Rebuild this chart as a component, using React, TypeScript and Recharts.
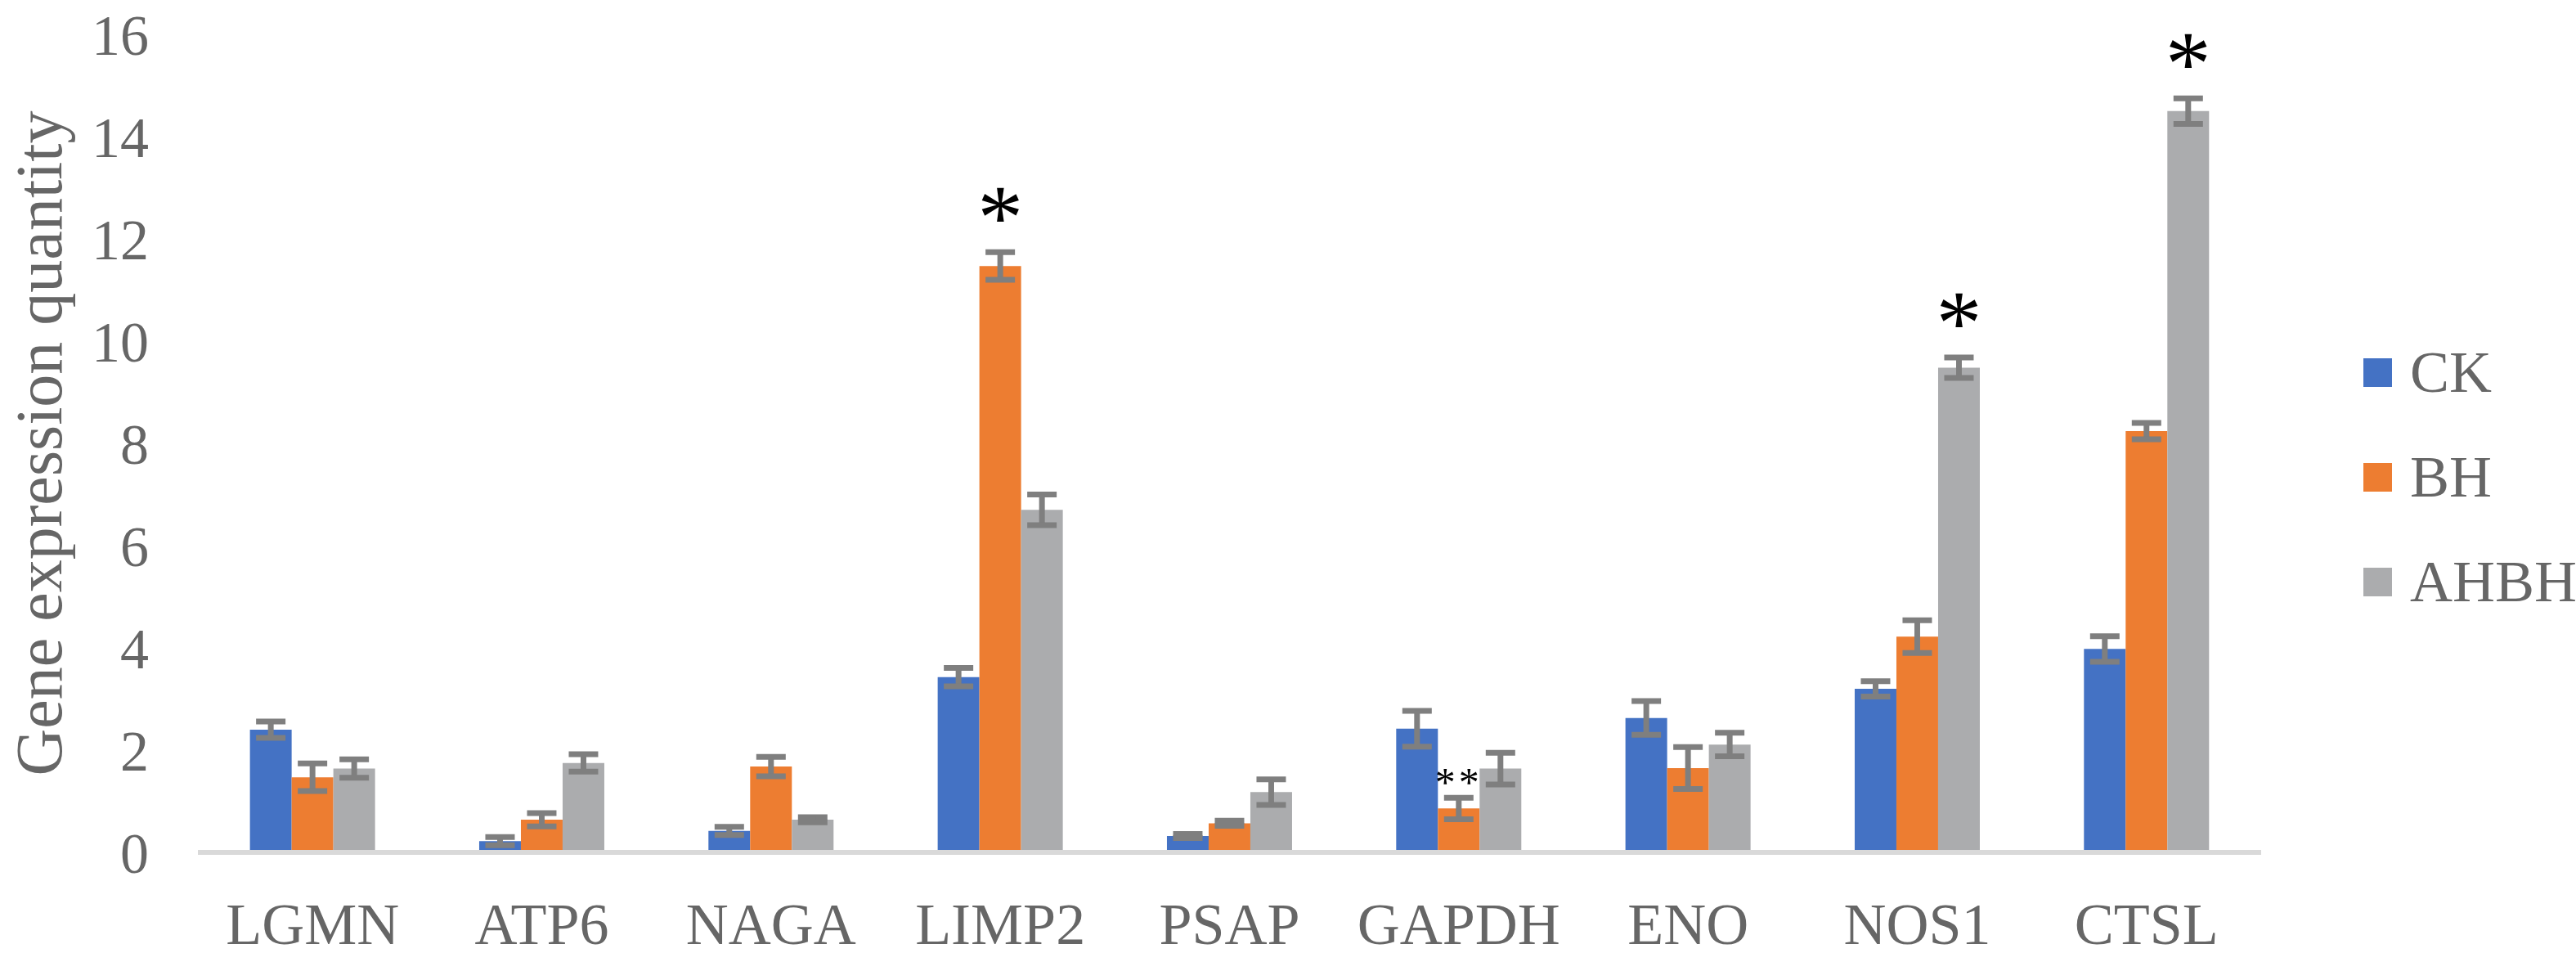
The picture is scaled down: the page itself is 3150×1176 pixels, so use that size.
import { Bar, BarChart, ErrorBar, LabelList, XAxis, YAxis } from "recharts";

const categories = ["LGMN", "ATP6", "NAGA", "LIMP2", "PSAP", "GAPDH", "ENO", "NOS1", "CTSL"];
const ck = [2.4, 0.22, 0.42, 3.43, 0.32, 2.42, 2.63, 3.2, 3.98];
const ckErr = [0.16, 0.08, 0.08, 0.18, 0.04, 0.35, 0.33, 0.15, 0.25];
const bh = [1.47, 0.64, 1.68, 11.47, 0.57, 0.86, 1.65, 4.22, 8.24];
const bhErr = [0.27, 0.13, 0.19, 0.27, 0.05, 0.21, 0.41, 0.32, 0.16];
const ahbh = [1.64, 1.75, 0.64, 6.7, 1.18, 1.64, 2.11, 9.48, 14.5];
const ahbhErr = [0.18, 0.17, 0.05, 0.3, 0.25, 0.31, 0.23, 0.2, 0.25];
const bhMarks = ["", "", "", "*", "", "**", "", "", ""];
const ahbhMarks = ["", "", "", "", "", "", "", "*", "*"];
const yTicks = [0, 2, 4, 6, 8, 10, 12, 14, 16];

const series = [
  { key: "CK", color: "#4472C4" },
  { key: "BH", color: "#ED7D31" },
  { key: "AHBH", color: "#ABACAE" },
];

const data = categories.map((name, i) => ({
  name,
  CK: ck[i],
  ckErr: ckErr[i],
  BH: bh[i],
  bhErr: bhErr[i],
  bhMark: bhMarks[i],
  AHBH: ahbh[i],
  ahbhErr: ahbhErr[i],
  ahbhMark: ahbhMarks[i],
}));

const FONT = '"Liberation Serif", "Times New Roman", serif';
const TEXT = "#666666";
const ERR = "#7f7f7f";

function XTick({ x, y, payload }: any) {
  return (
    <text x={x} y={y + 112} textAnchor="middle" fontSize={72} fill={TEXT} fontFamily={FONT}>
      {payload.value}
    </text>
  );
}

function YLabel({ viewBox }: any) {
  const cx = 48;
  const cy = viewBox.y + viewBox.height / 2;
  return (
    <text
      x={cx}
      y={cy}
      transform={`rotate(-90, ${cx}, ${cy})`}
      textAnchor="middle"
      dominantBaseline="central"
      fontSize={80}
      fill={TEXT}
      fontFamily={FONT}
    >
      Gene expression quantity
    </text>
  );
}

// star above the error bar; pixel size of the error comes from bar height / value
function markRenderer(values: number[], errs: number[]) {
  return (props: any) => {
    const { x, y, width, height, value, index } = props;
    if (!value) return null;
    const errPx = (errs[index] * height) / values[index];
    const small = value.length > 1;
    const size = small ? 50 : 112;
    const gap = small ? 26 : 58;
    const centerY = y - errPx - gap;
    return (
      <text
        x={x + width / 2}
        y={centerY + size * 0.47}
        textAnchor="middle"
        fontSize={size}
        fill="#000"
        fontFamily={FONT}
        letterSpacing={small ? 4 : 0}
      >
        {value}
      </text>
    );
  };
}

function LegendBox() {
  return (
    <div style={{ position: "absolute", left: 2890, top: 391, fontFamily: FONT }}>
      {series.map((s) => (
        <div key={s.key} style={{ height: 128, display: "flex", alignItems: "center" }}>
          <div style={{ width: 35, height: 35, background: s.color, marginRight: 22 }} />
          <span style={{ fontSize: 72, color: TEXT, lineHeight: 1 }}>{s.key}</span>
        </div>
      ))}
    </div>
  );
}

export default function App() {
  return (
    <div style={{ position: "absolute", left: 0, top: 0, width: 3150, height: 1176, background: "#fff" }}>
      <BarChart
        width={3150}
        height={1176}
        data={data}
        margin={{ top: 42, right: 385, bottom: 0, left: 0 }}
        barCategoryGap="22.7%"
        barGap={0}
      >
        <XAxis
          dataKey="name"
          height={134}
          interval={0}
          axisLine={{ stroke: "#d9d9d9", strokeWidth: 6 }}
          tickLine={false}
          tickSize={0}
          tickMargin={0}
          tick={<XTick />}
        />
        <YAxis
          width={242}
          domain={[0, 16]}
          ticks={yTicks}
          interval={0}
          axisLine={false}
          tickLine={false}
          tickSize={0}
          tickMargin={60}
          tick={{ fontSize: 70, fill: TEXT, fontFamily: FONT }}
          label={<YLabel />}
        />
        <Bar dataKey="CK" fill={series[0].color} isAnimationActive={false}>
          <ErrorBar dataKey="ckErr" width={18} strokeWidth={7} stroke={ERR} />
        </Bar>
        <Bar dataKey="BH" fill={series[1].color} isAnimationActive={false}>
          <ErrorBar dataKey="bhErr" width={18} strokeWidth={7} stroke={ERR} />
          <LabelList dataKey="bhMark" content={markRenderer(bh, bhErr)} />
        </Bar>
        <Bar dataKey="AHBH" fill={series[2].color} isAnimationActive={false}>
          <ErrorBar dataKey="ahbhErr" width={18} strokeWidth={7} stroke={ERR} />
          <LabelList dataKey="ahbhMark" content={markRenderer(ahbh, ahbhErr)} />
        </Bar>
      </BarChart>
      <LegendBox />
    </div>
  );
}
